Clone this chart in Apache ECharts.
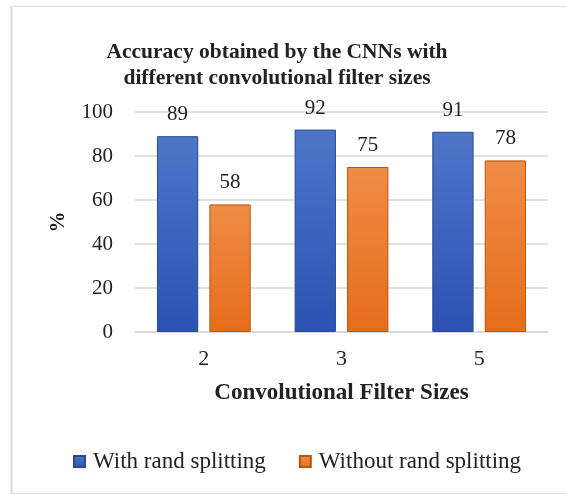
<!DOCTYPE html>
<html><head><meta charset="utf-8">
<script src="https://cdn.jsdelivr.net/npm/echarts@6/dist/echarts.min.js"></script>
<style>html,body{margin:0;padding:0;background:#fff}#c{width:566px;height:495px}</style>
</head><body><div id="c"></div>
<script>
var categories = ['2', '3', '5'];
var withRand = [89, 92, 91];
var withoutRand = [58, 75, 78];
var seriesNames = ['With rand splitting', 'Without rand splitting'];

var font = '"Liberation Serif", "Times New Roman", serif';
var chart = echarts.init(document.getElementById('c'));
function grad(a, b) {
  return new echarts.graphic.LinearGradient(0, 0, 0, 1, [{offset: 0, color: a}, {offset: 1, color: b}]);
}
chart.setOption({
  animation: false,
  backgroundColor: '#fff',
  graphic: [
    {type: 'line', shape: {x1: 11.5, y1: 6, x2: 11.5, y2: 494}, style: {stroke: '#d9d9d9', lineWidth: 2}},
    {type: 'line', shape: {x1: 11, y1: 6.5, x2: 566, y2: 6.5}, style: {stroke: '#e3e3e3', lineWidth: 1.5}},
    {type: 'line', shape: {x1: 11, y1: 493.5, x2: 566, y2: 493.5}, style: {stroke: '#e3e3e3', lineWidth: 1.5}}
  ],
  title: {
    text: 'Accuracy obtained by the CNNs with\ndifferent convolutional filter sizes',
    left: 272, top: 34, textAlign: 'center',
    textStyle: {fontFamily: font, fontSize: 21.5, fontWeight: 'bold', color: '#222', lineHeight: 26}
  },
  legend: {
    top: 445, left: 68, itemWidth: 11, itemHeight: 11, itemGap: 33,
    icon: 'rect',
    textStyle: {fontFamily: font, fontSize: 23, color: '#222', padding: [0, 0, 0, 3]},
    data: seriesNames
  },
  grid: {left: 135, right: 18, top: 112, bottom: 163},
  xAxis: {
    type: 'category', data: categories,
    name: 'Convolutional Filter Sizes', nameLocation: 'middle', nameGap: 50,
    nameTextStyle: {fontFamily: font, fontSize: 23, fontWeight: 'bold', color: '#222'},
    axisLine: {lineStyle: {color: '#d9d9d9', width: 1.5}},
    axisTick: {show: false},
    axisLabel: {fontFamily: font, fontSize: 22, color: '#222', margin: 16}
  },
  yAxis: {
    type: 'value', min: 0, max: 100, interval: 20,
    name: '%', nameLocation: 'middle', nameGap: 66, nameRotate: 90,
    nameTextStyle: {fontFamily: font, fontSize: 21, fontWeight: 'bold', color: '#222'},
    axisLine: {show: false}, axisTick: {show: false},
    axisLabel: {fontFamily: font, fontSize: 21, color: '#222', margin: 22},
    splitLine: {lineStyle: {color: '#d9d9d9', width: 1.5}}
  },
  series: [
    {
      name: seriesNames[0], type: 'bar', data: withRand, barWidth: '30%', barGap: '27%',
      itemStyle: {color: grad('#4e76c8', '#2c52b2'), borderColor: '#2a4a96', borderWidth: 1},
      label: {show: true, position: 'top', distance: 11, fontFamily: font, fontSize: 21, color: '#222'}
    },
    {
      name: seriesNames[1], type: 'bar', data: withoutRand, barWidth: '30%',
      itemStyle: {color: grad('#f08c45', '#e56d1c'), borderColor: '#b8560f', borderWidth: 1},
      label: {show: true, position: 'top', distance: 11, fontFamily: font, fontSize: 21, color: '#222'}
    }
  ]
});
</script></body></html>
